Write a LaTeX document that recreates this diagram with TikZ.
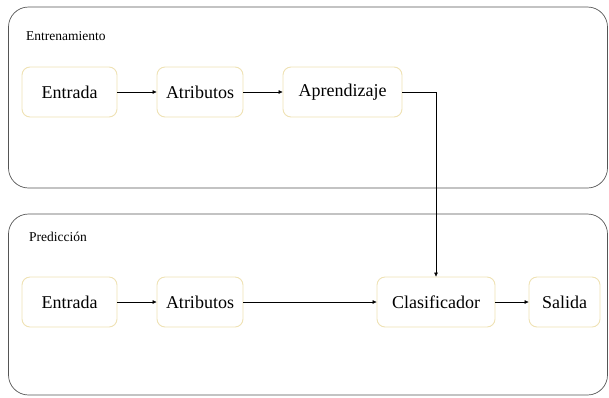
\documentclass[tikz,border=0pt]{standalone}
\usepackage{fontspec}
\setmainfont{Liberation Serif}
\usetikzlibrary{arrows.meta}
\definecolor{boxline}{HTML}{EFE2B4}
\definecolor{frameline}{HTML}{555555}
\begin{document}
\begin{tikzpicture}[x=1pt,y=-1pt,
  container/.style={draw=frameline, line width=0.7pt, rounded corners=20pt},
  stage/.style={draw=boxline, line width=0.9pt, rounded corners=8pt, fill=white, inner sep=0pt, minimum height=50pt, font=\fontsize{18}{20}\selectfont},
  sectionlabel/.style={anchor=west, inner sep=0pt, font=\fontsize{13.5}{15}\selectfont},
  conn/.style={-{Triangle[length=4pt,width=3.5pt]}, line width=0.6pt, draw=black}]
\useasboundingbox (0,0) rectangle (609,397);
% containers
\draw[container] (8.5,7) rectangle (607.5,188);
\draw[container] (8.5,214) rectangle (607.5,395);
\node[sectionlabel] (lt) at (26,36) {Entrenamiento};
\node[sectionlabel] (lp) at (29,237) {Predicción};
% top row
\node[stage, minimum width=95pt] (e1) at (69.5,92) {Entrada};
\node[stage, minimum width=86pt] (a1) at (200,92) {Atributos};
\node[stage, minimum width=119pt] (p1) at (342.5,92) {Aprendizaje};
% bottom row
\node[stage, minimum width=95pt] (e2) at (69.5,302) {Entrada};
\node[stage, minimum width=86pt] (a2) at (200,302) {Atributos};
\node[stage, minimum width=118pt] (c2) at (436,302) {Clasificador};
\node[stage, minimum width=71pt] (s2) at (564.5,302) {Salida};
% connectors
\draw[conn] (e1) -- (a1);
\draw[conn] (a1) -- (p1);
\draw[conn] (p1.east) -| (c2.north);
\draw[conn] (e2) -- (a2);
\draw[conn] (a2) -- (c2);
\draw[conn] (c2) -- (s2);
\end{tikzpicture}
\end{document}
